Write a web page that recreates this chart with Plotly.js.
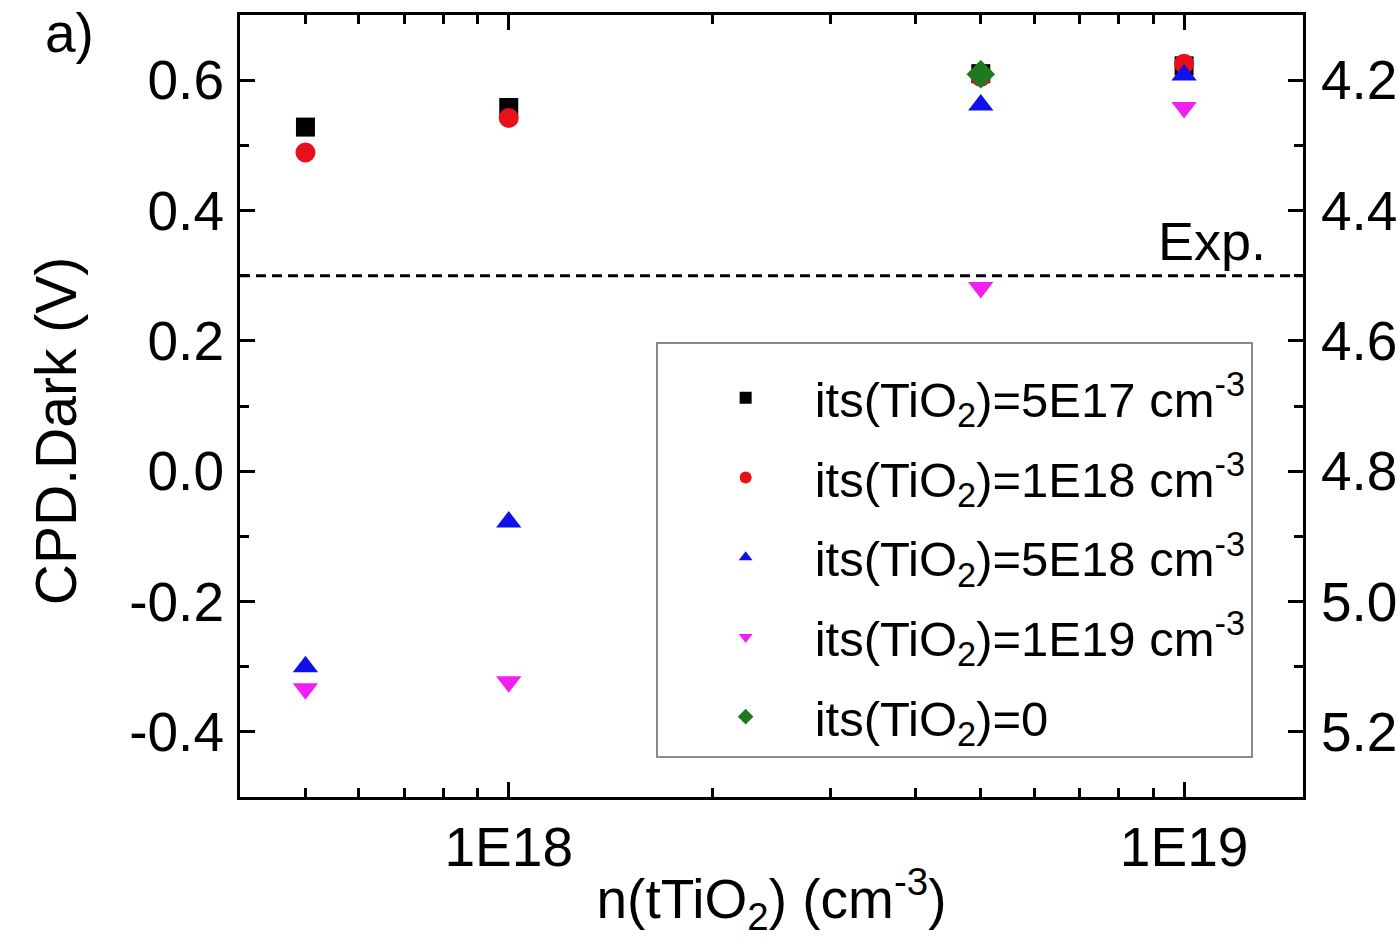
<!DOCTYPE html>
<html>
<head>
<meta charset="utf-8">
<script src="https://cdn.plot.ly/plotly-3.0.1.min.js"></script>
<style>html,body{margin:0;padding:0;background:#fff;}#chart{width:1397px;height:938px;}</style>
</head>
<body>
<div id="chart"></div>
<script>
// x positions: n(tTiO2) in cm^-3
const nTiO2 = [5e17, 1e18, 5e18, 1e19];
// CPD.Dark (V) for each interface trap density its(TiO2)
const its5E17 = [0.528, 0.558, 0.610, 0.622];
const its1E18 = [0.489, 0.542, 0.605, 0.625];
const its5E18 = [-0.300, -0.078, 0.562, 0.608];
const its1E19 = [-0.334, -0.323, 0.282, 0.558];
const its0X = [5e18];
const its0 = [0.609];
const expCPD = 0.3;
const seriesNames = [
  'its(TiO<sub>2</sub>)=5E17 cm<sup>-3</sup>',
  'its(TiO<sub>2</sub>)=1E18 cm<sup>-3</sup>',
  'its(TiO<sub>2</sub>)=5E18 cm<sup>-3</sup>',
  'its(TiO<sub>2</sub>)=1E19 cm<sup>-3</sup>',
  'its(TiO<sub>2</sub>)=0'
];
const xTickVals = [1e18, 1e19];
const xTickText = ['1E18', '1E19'];
const xMinorVals = [5e17, 6e17, 7e17, 8e17, 9e17, 2e18, 3e18, 4e18, 5e18, 6e18, 7e18, 8e18, 9e18];
const yTickVals = [-0.4, -0.2, 0.0, 0.2, 0.4, 0.6];
const yTickText = ['-0.4', '-0.2', '0.0', '0.2', '0.4', '0.6'];
const y2TickVals = [4.2, 4.4, 4.6, 4.8, 5.0, 5.2];
const y2TickText = ['4.2', '4.4', '4.6', '4.8', '5.0', '5.2'];

const FONT = 'Liberation Sans, Arial, sans-serif';

function tr(x, y, name, symbol, color, size, i) {
  return {
    x: x, y: y, name: name, type: 'scatter', mode: 'markers',
    legendgroup: 'g' + i,
    marker: {symbol: symbol, color: color, size: size, line: {width: 0}}
  };
}

const traces = [
  tr(nTiO2, its5E17, seriesNames[0], 'square', '#000000', 19, 0),
  tr(nTiO2, its1E18, seriesNames[1], 'circle', '#e8101a', 20, 1),
  tr(nTiO2, its5E18, seriesNames[2], 'triangle-up', '#1010e8', 22, 2),
  tr(nTiO2, its1E19, seriesNames[3], 'triangle-down', '#f020f0', 22, 3),
  tr(its0X, its0, seriesNames[4], 'diamond', '#1f7a1f', 22, 4),
  {x: [], y: [], yaxis: 'y2', type: 'scatter', mode: 'markers', showlegend: false, hoverinfo: 'skip'}
];

const axisCommon = {
  showline: true, linecolor: '#000', linewidth: 3,
  ticks: 'inside', ticklen: 15, tickwidth: 3, tickcolor: '#000',
  showgrid: false, zeroline: false,
  tickfont: {family: FONT, size: 55, color: '#000'}
};

const layout = {
  width: 1397, height: 938,
  margin: {l: 240, r: 94, t: 15, b: 141},
  paper_bgcolor: '#fff', plot_bgcolor: '#fff',
  showlegend: true,
  font: {family: FONT, color: '#000'},
  xaxis: Object.assign({}, axisCommon, {
    type: 'log',
    range: [Math.log10(4.0e17), Math.log10(1.5e19)],
    tickmode: 'array', tickvals: xTickVals, ticktext: xTickText,
    mirror: 'ticks',
    minor: {tickmode: 'array', tickvals: xMinorVals, ticks: 'inside', ticklen: 9, tickwidth: 3, tickcolor: '#000'},
    title: {text: 'n(tTiO<sub>2</sub>) (cm<sup>-3</sup>)', font: {family: FONT, size: 55, color: '#000'}, standoff: 14}
  }),
  yaxis: Object.assign({}, axisCommon, {
    range: [-0.5, 0.7],
    tickmode: 'array', tickvals: yTickVals, ticktext: yTickText,
    minor: {dtick: 0.1, tick0: 0, ticks: 'inside', ticklen: 9, tickwidth: 3, tickcolor: '#000'},
    ticklabelstandoff: 2
  }),
  yaxis2: Object.assign({}, axisCommon, {
    overlaying: 'y', side: 'right',
    range: [5.3, 4.1],
    tickmode: 'array', tickvals: y2TickVals, ticktext: y2TickText,
    minor: {dtick: 0.1, tick0: 0, ticks: 'inside', ticklen: 9, tickwidth: 3, tickcolor: '#000'},
    ticklabelstandoff: 4
  }),
  legend: {
    x: 0.391, y: 0.582, xanchor: 'left', yanchor: 'top',
    bgcolor: '#fff', bordercolor: '#8a8a8a', borderwidth: 2,
    font: {family: FONT, size: 49, color: '#000'},
    itemsizing: 'constant', itemwidth: 128, indentation: 19,
    tracegroupgap: 13,
    title: {text: ' ', font: {family: FONT, size: 12}}
  },
  shapes: [{
    type: 'line', xref: 'paper', x0: 0, x1: 1, yref: 'y', y0: expCPD, y1: expCPD,
    line: {color: '#000', width: 3, dash: '10px,6px'}
  }],
  annotations: [
    {text: 'CPD.Dark (V)', textangle: -90, xref: 'paper', yref: 'paper', x: -0.173, y: 0.468,
     xanchor: 'center', yanchor: 'middle', showarrow: false, font: {family: FONT, size: 57, color: '#000'}},
    {text: 'Exp.', xref: 'paper', yref: 'y', x: 0.967, y: expCPD, xanchor: 'right', yanchor: 'bottom', yshift: 3,
     showarrow: false, font: {family: FONT, size: 54, color: '#000'}},
    {text: 'a)', xref: 'paper', yref: 'paper', x: -0.185, y: 1.019, xanchor: 'left', yanchor: 'top',
     showarrow: false, font: {family: FONT, size: 55, color: '#000'}}
  ]
};

Plotly.newPlot('chart', traces, layout, {staticPlot: true, displayModeBar: false});
</script>
</body>
</html>
